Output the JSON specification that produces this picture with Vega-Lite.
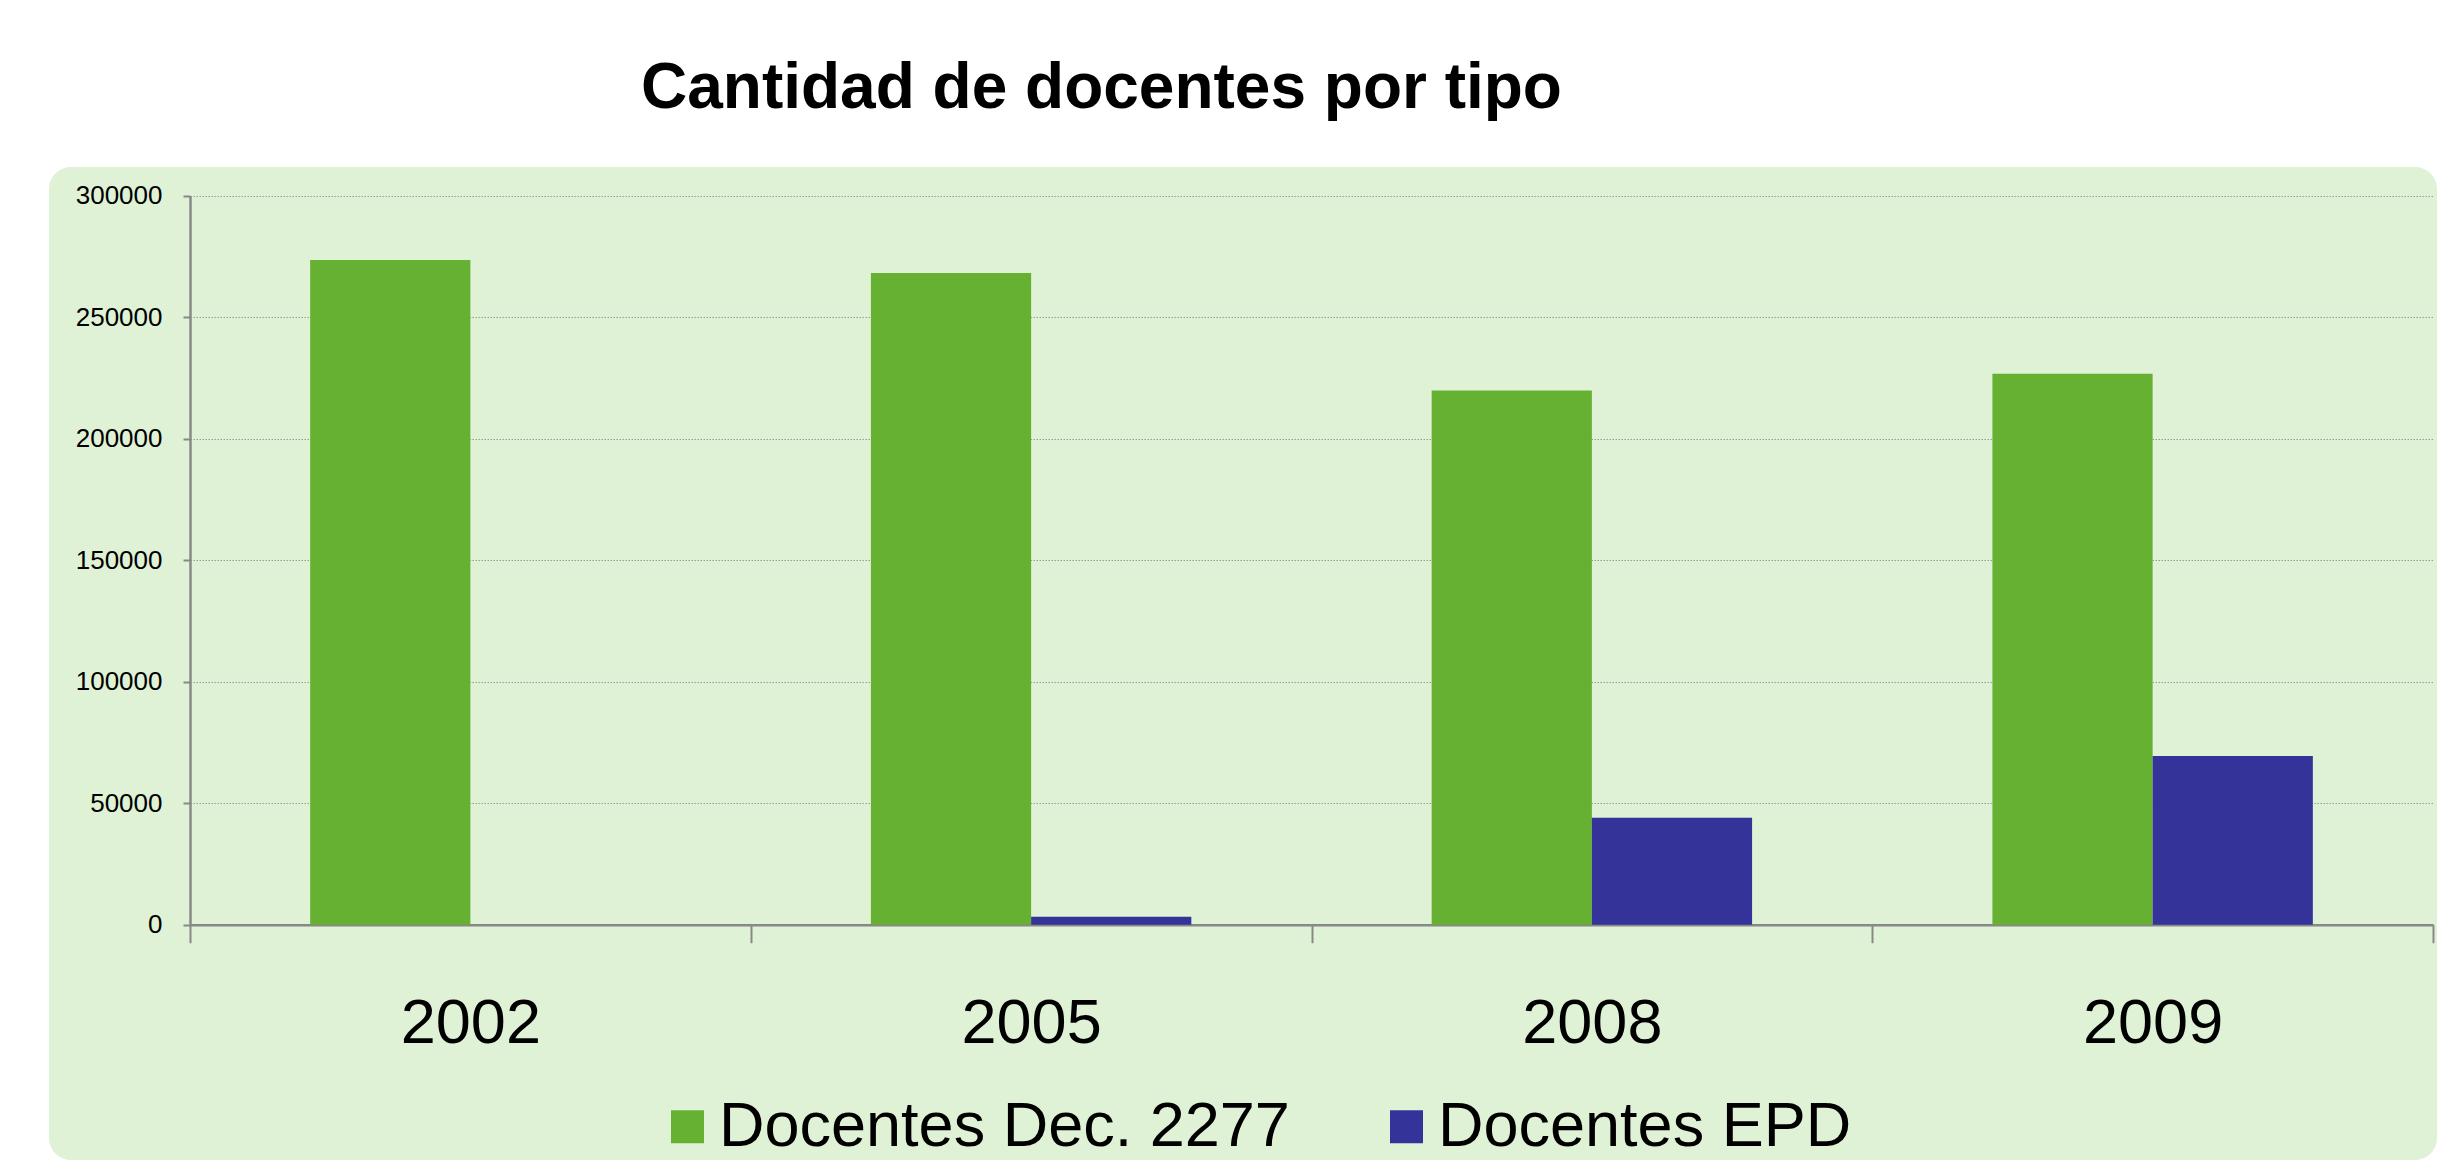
{
  "$schema": "https://vega.github.io/schema/vega-lite/v6.json",
  "autosize": "none",
  "width": 2388,
  "height": 993,
  "padding": {"left": 49, "top": 167, "right": 0, "bottom": 0},
  "background": "#ffffff",
  "config": {"font": "Liberation Sans", "view": {"fill": "#dff2d5", "stroke": null, "cornerRadius": 22}},
  "title": {
    "text": "Cantidad de docentes por tipo",
    "anchor": "start",
    "frame": "group",
    "dx": 592,
    "dy": 65,
    "offset": 60,
    "baseline": "alphabetic",
    "fontSize": 64,
    "fontWeight": "bold",
    "font": "Liberation Sans",
    "color": "#000000"
  },
  "data": {
    "values": [
      {"anio": "2002", "tipo": "Docentes Dec. 2277", "valor": 273500},
      {"anio": "2005", "tipo": "Docentes Dec. 2277", "valor": 268200},
      {"anio": "2005", "tipo": "Docentes EPD", "valor": 3300},
      {"anio": "2008", "tipo": "Docentes Dec. 2277", "valor": 219800},
      {"anio": "2008", "tipo": "Docentes EPD", "valor": 44000},
      {"anio": "2009", "tipo": "Docentes Dec. 2277", "valor": 226700},
      {"anio": "2009", "tipo": "Docentes EPD", "valor": 69400}
    ]
  },
  "mark": {"type": "bar"},
  "encoding": {
    "x": {
      "field": "anio",
      "type": "nominal",
      "sort": ["2002", "2005", "2008", "2009"],
      "scale": {"range": [141, 2384], "paddingInner": 0, "paddingOuter": 0},
      "axis": {
        "orient": "bottom",
        "offset": -235.3,
        "title": null,
        "labelAngle": 0,
        "tickBand": "extent",
        "tickSize": 18,
        "tickColor": "#888888",
        "tickWidth": 2,
        "domainColor": "#888888",
        "domainWidth": 2.5,
        "labelFontSize": 63,
        "labelFont": "Liberation Sans",
        "labelColor": "#000000",
        "labelPadding": 50,
        "grid": false
      }
    },
    "xOffset": {
      "field": "tipo",
      "type": "nominal",
      "scale": {"paddingInner": 0, "paddingOuter": 0.75}
    },
    "y": {
      "field": "valor",
      "type": "quantitative",
      "stack": null,
      "scale": {"domain": [0, 300000], "range": [757.7, 28.7], "nice": false, "zero": true},
      "axis": {
        "offset": -141,
        "title": null,
        "values": [0, 50000, 100000, 150000, 200000, 250000, 300000],
        "format": "d",
        "tickSize": 7,
        "tickColor": "#888888",
        "tickWidth": 2,
        "domainColor": "#888888",
        "domainWidth": 2.5,
        "labelFontSize": 26,
        "labelFont": "Liberation Sans",
        "labelColor": "#000000",
        "labelPadding": 21,
        "grid": true,
        "gridColor": "#9a9a9a",
        "gridDash": [1.5, 1.5],
        "gridWidth": 1
      }
    },
    "color": {
      "field": "tipo",
      "type": "nominal",
      "scale": {"domain": ["Docentes Dec. 2277", "Docentes EPD"], "range": ["#66b032", "#333399"]},
      "legend": {
        "orient": "none",
        "legendX": 607,
        "legendY": 928,
        "direction": "horizontal",
        "title": null,
        "padding": 0,
        "labelFontSize": 63,
        "labelFont": "Liberation Sans",
        "labelColor": "#000000",
        "labelLimit": 2000,
        "labelOffset": 0,
        "columnPadding": 85,
        "symbolType": "square",
        "symbolSize": 1089,
        "symbolStrokeWidth": 0,
        "symbolOpacity": 1
      }
    }
  }
}
